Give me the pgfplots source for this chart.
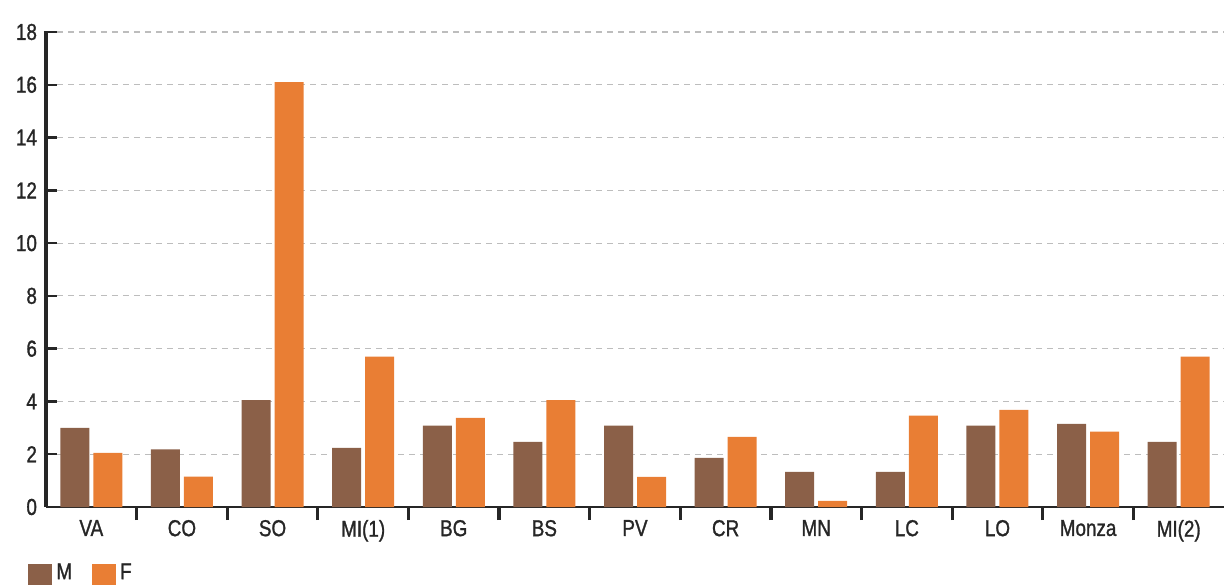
\documentclass[border=0pt]{standalone}
\usepackage{pgfplots}
\pgfplotsset{compat=1.18}
\usepackage{fontspec}
\setmainfont{Liberation Sans}[FakeStretch=0.82, FakeBold=1.2]

\definecolor{cM}{HTML}{8B6048}
\definecolor{cF}{HTML}{E97E34}
\definecolor{gridgray}{HTML}{BDBDBD}

\pgfplotstableread{
x M F
0 3.0 2.05
1 2.18 1.15
2 4.05 16.1
3 2.24 5.7
4 3.08 3.38
5 2.47 4.05
6 3.08 1.14
7 1.86 2.66
8 1.33 0.23
9 1.33 3.46
10 3.08 3.68
11 3.15 2.86
12 2.47 5.7
}\datatable

\begin{document}
\begin{tikzpicture}
\begin{axis}[
  scale only axis,
  width=589pt, height=237.5pt,
  ybar=2pt, bar width=14.5pt,
  xmin=-0.5, xmax=12.5,
  ymin=0, ymax=18,
  axis x line*=bottom, axis y line*=left,
  x axis line style={-, line width=1pt, black!85},
  y axis line style={-, line width=1.6pt, black!85},
  xtick={0,...,12},
  xticklabels={VA,CO,SO,MI(1),BG,BS,PV,CR,MN,LC,LO,Monza,MI(2)},
  minor xtick={0.5,1.5,...,11.5},
  ytick={0,2,...,18},
  minor ytick={2,4,...,18},
  tick align=outside,
  major tick length=0pt, minor tick length=6.5pt,
  minor x tick style={line width=1.6pt, black!85},
  minor y tick style={line width=1.2pt, black!85, xshift=5.5pt},
  ymajorgrids,
  major grid style={gridgray, line width=0.6pt, dash pattern=on 3pt off 2.5pt},
  tick label style={font=\fontsize{11.5}{13}\selectfont, text=black!85},
  /pgf/number format/assume math mode=true,
  yticklabel style={xshift=-1pt},
  xticklabel style={yshift=-3pt},
  legend columns=2,
  legend style={at={(rel axis cs:0,0)}, anchor=north west,
    xshift=-12pt, yshift=-24pt, draw=none, fill=none,
    font=\fontsize{11.5}{13}\selectfont, text=black!85,
    /tikz/every even column/.append style={column sep=8pt}},
  legend image code/.code={\fill[#1] (0pt,-6pt) rectangle (12pt,4.5pt);},
]
\addplot[fill=cM, draw=none] table[x=x, y=M] {\datatable};
\addplot[fill=cF, draw=none] table[x=x, y=F] {\datatable};
\legend{M,F}
\coordinate (bl) at (rel axis cs:0,0);
\coordinate (tr) at (rel axis cs:1,1);
\end{axis}
\pgfresetboundingbox
\path ([xshift=-23pt,yshift=-38.5pt]bl) rectangle ([yshift=16pt]tr);
\end{tikzpicture}
\end{document}
